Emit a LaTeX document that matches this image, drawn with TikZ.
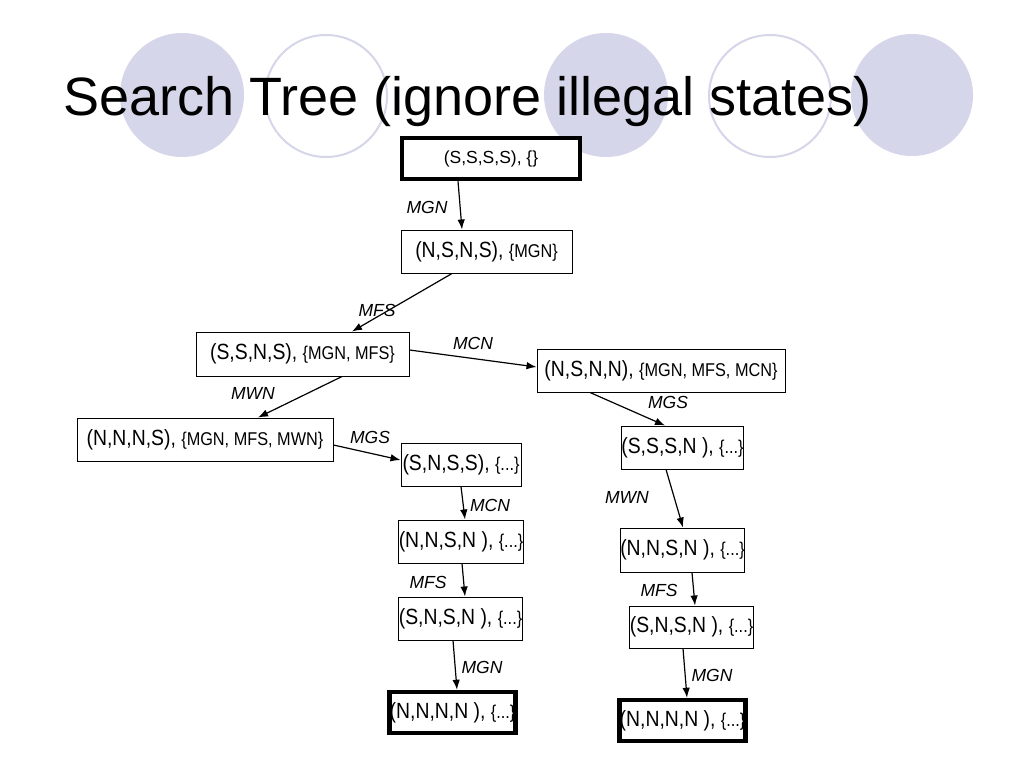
\documentclass[tikz,border=0pt]{standalone}
\usepackage{fontspec}
\setmainfont{Liberation Sans}
\newfontfamily\nf[FakeStretch=0.88]{Liberation Sans}
\newfontfamily\lfam{Liberation Sans}
\usetikzlibrary{arrows.meta,calc}
\definecolor{lav}{RGB}{214,214,234}
\newcommand\statetxt[2]{{\fontsize{22}{24}\selectfont #1}{\fontsize{18.5}{20}\selectfont #2}}
\tikzset{
  statebox/.style={draw, line width=1pt, inner sep=0pt, font=\nf, fill=white},
  goalbox/.style={statebox, line width=4.5pt},
  arr/.style={-{Latex[length=10pt,width=7.5pt]}, line width=1.2pt},
  lab/.style={font=\lfam\itshape\fontsize{17.5}{19}\selectfont, inner sep=0pt},
  deco/.style={fill=lav, draw=none},
  decoring/.style={draw=lav, line width=2pt},
}
\begin{document}
\begin{tikzpicture}[x=1pt,y=-1pt]
\useasboundingbox[fill=white] (0,0) rectangle (1024,768);
% decorative circles
\fill[deco] (182,95) circle[radius=62pt];
\draw[decoring] (326,96) circle[radius=61pt];
\fill[deco] (606,95) circle[radius=62pt];
\draw[decoring] (770,96) circle[radius=61pt];
\fill[deco] (912,95) circle[radius=61pt];
% title
\node[anchor=base west, inner sep=0pt, font=\fontsize{54}{60}\selectfont] (title) at (63,115) {Search Tree (ignore illegal states)};
% states
\node[goalbox, minimum width=178pt, minimum height=41pt, font=\lfam\fontsize{17.5}{20}\selectfont] (root) at (491,158.5) {(S,S,S,S), \{\}};
\node[statebox, minimum width=171pt, minimum height=43pt] (n2) at (486.5,251.5) {\statetxt{(N,S,N,S), }{\{MGN\}}};
\node[statebox, minimum width=213pt, minimum height=44pt] (n3) at (302.5,354) {\statetxt{(S,S,N,S), }{\{MGN, MFS\}}};
\node[statebox, minimum width=248pt, minimum height=43pt] (n4) at (661,370.5) {\statetxt{(N,S,N,N), }{\{MGN, MFS, MCN\}}};
\node[statebox, minimum width=119pt, minimum height=43pt] (n5) at (682.5,447.5) {\statetxt{(S,S,S,N ), }{\{...\}}};
\node[statebox, minimum width=119pt, minimum height=44pt] (n6) at (682.5,550) {\statetxt{(N,N,S,N ), }{\{...\}}};
\node[statebox, minimum width=119pt, minimum height=42pt] (n7) at (691.5,627) {\statetxt{(S,N,S,N ), }{\{...\}}};
\node[goalbox, minimum width=117pt, minimum height=41pt] (n8) at (682.5,720.5) {\statetxt{(N,N,N,N ), }{\{...\}}};
\node[statebox, minimum width=256pt, minimum height=43pt] (l1) at (205,439.5) {\statetxt{(N,N,N,S), }{\{MGN, MFS, MWN\}}};
\node[statebox, minimum width=120pt, minimum height=43pt] (l2) at (461,464.5) {\statetxt{(S,N,S,S), }{\{...\}}};
\node[statebox, minimum width=120pt, minimum height=43pt] (l3) at (461,541.5) {\statetxt{(N,N,S,N ), }{\{...\}}};
\node[statebox, minimum width=119pt, minimum height=43pt] (l4) at (460.5,618.5) {\statetxt{(S,N,S,N ), }{\{...\}}};
\node[goalbox, minimum width=117pt, minimum height=41pt] (l5) at (452.5,712.5) {\statetxt{(N,N,N,N ), }{\{...\}}};
% edges
\draw[arr] ([xshift=-33pt]root.south) -- ([xshift=-24.5pt]n2.north);
\draw[arr] ([xshift=-34.5pt]n2.south) -- ([xshift=49.5pt]n3.north);
\draw[arr] ([yshift=4pt]n3.east) -- ([yshift=3.5pt]n4.west);
\draw[arr] ([xshift=39.5pt]n3.south) -- ([xshift=53pt]l1.north);
\draw[arr] ([yshift=-5.5pt]l1.east) -- ([yshift=4.5pt]l2.west);
\draw[arr] (l2.south) -- ([xshift=4pt]l3.north);
\draw[arr] ([xshift=1pt]l3.south) -- ([xshift=4.5pt]l4.north);
\draw[arr] ([xshift=-7.5pt]l4.south) -- ([xshift=4.5pt]l5.north);
\draw[arr] ([xshift=-71pt]n4.south) -- ([xshift=-17.5pt]n5.north);
\draw[arr] ([xshift=-16.5pt]n5.south) -- ([xshift=0.5pt]n6.north);
\draw[arr] ([xshift=9.5pt]n6.south) -- ([xshift=3.5pt]n7.north);
\draw[arr] ([xshift=-8.5pt]n7.south) -- ([xshift=4.5pt]n8.north);
% edge labels
\node[lab] (t1) at (427,207) {MGN};
\node[lab] (t2) at (377,310) {MFS};
\node[lab] (t3) at (473,343) {MCN};
\node[lab] (t4) at (253,393) {MWN};
\node[lab] (t5) at (370,437) {MGS};
\node[lab] (t6) at (490,505) {MCN};
\node[lab] (t7) at (428,582) {MFS};
\node[lab] (t8) at (482,667) {MGN};
\node[lab] (t9) at (668,402) {MGS};
\node[lab] (t10) at (627,497) {MWN};
\node[lab] (t11) at (659,590) {MFS};
\node[lab] (t12) at (712,675) {MGN};
\end{tikzpicture}
\end{document}
